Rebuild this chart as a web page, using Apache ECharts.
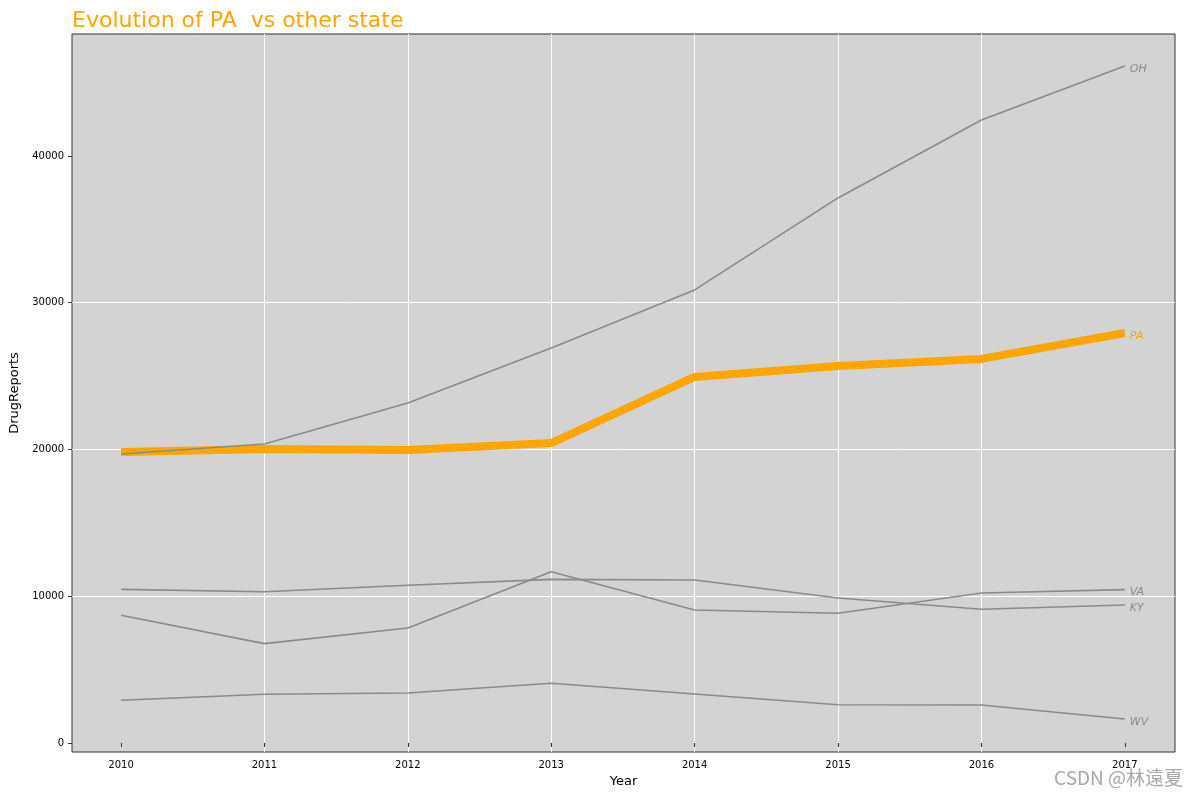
<!DOCTYPE html>
<head>
    <meta charset="utf-8">
    <title>Evolution of PA vs other state</title>
</head>
<body style="margin:0;background:#fff;">
    <script type="text/javascript" src="https://cdn.jsdelivr.net/npm/echarts@6/dist/echarts.min.js"></script>

    <div id="main" style="width: 1198px;height:796px;"></div>

    <script type="text/javascript">
        // data
        var years = [2010, 2011, 2012, 2013, 2014, 2015, 2016, 2017];
        var pa = [19830, 20030, 19970, 20440, 24940, 25690, 26170, 27940];
        var oh = [19690, 20370, 23170, 26920, 30870, 37140, 42450, 46130];
        var va = [8700, 6770, 7840, 11670, 9060, 8840, 10220, 10450];
        var ky = [10470, 10310, 10750, 11150, 11110, 9880, 9110, 9400];
        var wv = [2910, 3320, 3410, 4070, 3340, 2610, 2590, 1640];
        var yTicks = [0, 10000, 20000, 30000, 40000];

        function pairs(arr) {
            var out = [];
            for (var i = 0; i < years.length; i++) out.push([years[i], arr[i]]);
            return out;
        }

        function grayLine(name, arr) {
            return {
                name: name,
                type: 'line',
                data: pairs(arr),
                symbol: 'none',
                z: 3,
                lineStyle: { color: '#8a8a8a', width: 1.6 },
                endLabel: {
                    show: true,
                    formatter: name,
                    color: '#8a8a8a',
                    fontStyle: 'italic',
                    fontSize: 11,
                    fontFamily: 'DejaVu Sans',
                    distance: 5,
                    offset: [0, 3]
                }
            };
        }

        var myChart = echarts.init(document.getElementById('main'));
        myChart.setOption({
            animation: false,
            title: {
                text: 'Evolution of PA  vs other state',
                left: 67,
                top: 5,
                textStyle: { color: '#FFA500', fontSize: 22, fontWeight: 'normal', fontFamily: 'DejaVu Sans' }
            },
            grid: {
                left: 72, right: 23, top: 34, bottom: 44,
                outerBoundsMode: 'none',
                containLabel: false,
                show: true,
                backgroundColor: '#d3d3d3',
                borderColor: '#333',
                borderWidth: 1
            },
            xAxis: {
                type: 'value',
                min: 2009.658,
                max: 2017.35,
                name: 'Year',
                nameLocation: 'middle',
                nameGap: 23,
                nameTextStyle: { color: '#000', fontSize: 13, fontFamily: 'DejaVu Sans' },
                axisLine: { show: false },
                axisTick: { show: true, length: 4, customValues: years, lineStyle: { color: '#333' } },
                axisLabel: {
                    customValues: years, color: '#000', fontSize: 10, fontFamily: 'DejaVu Sans', margin: 8,
                    formatter: function (v) { return String(v); }
                },
                splitLine: { show: true, showMinLine: false, showMaxLine: false, lineStyle: { color: '#fff', width: 1 } }
            },
            yAxis: {
                type: 'value',
                min: -613,
                max: 48310,
                name: 'DrugReports',
                nameLocation: 'middle',
                nameGap: 50,
                nameTextStyle: { color: '#000', fontSize: 13, fontFamily: 'DejaVu Sans' },
                axisLine: { show: false },
                axisTick: { show: true, length: 4, customValues: yTicks, lineStyle: { color: '#333' } },
                axisLabel: {
                    customValues: yTicks, color: '#000', fontSize: 10, fontFamily: 'DejaVu Sans', margin: 8,
                    formatter: function (v) { return String(v); }
                },
                splitLine: { show: true, showMinLine: false, showMaxLine: false, lineStyle: { color: '#fff', width: 1 } }
            },
            graphic: [{
                type: 'text',
                right: 15,
                bottom: 9,
                style: {
                    text: 'CSDN @林遠夏',
                    fill: '#a8a8a8',
                    font: '19px "Noto Sans CJK SC"'
                }
            }],
            series: [
                {
                    name: 'PA',
                    type: 'line',
                    data: pairs(pa),
                    symbol: 'none',
                    z: 2,
                    lineStyle: { color: '#FFA500', width: 8 },
                    endLabel: {
                        show: true,
                        formatter: 'PA',
                        color: '#FFA500',
                        fontStyle: 'italic',
                        fontSize: 11,
                        fontFamily: 'DejaVu Sans',
                        distance: 5,
                        offset: [0, 3]
                    }
                },
                grayLine('OH', oh),
                grayLine('VA', va),
                grayLine('KY', ky),
                grayLine('WV', wv)
            ]
        });
    </script>
</body>
